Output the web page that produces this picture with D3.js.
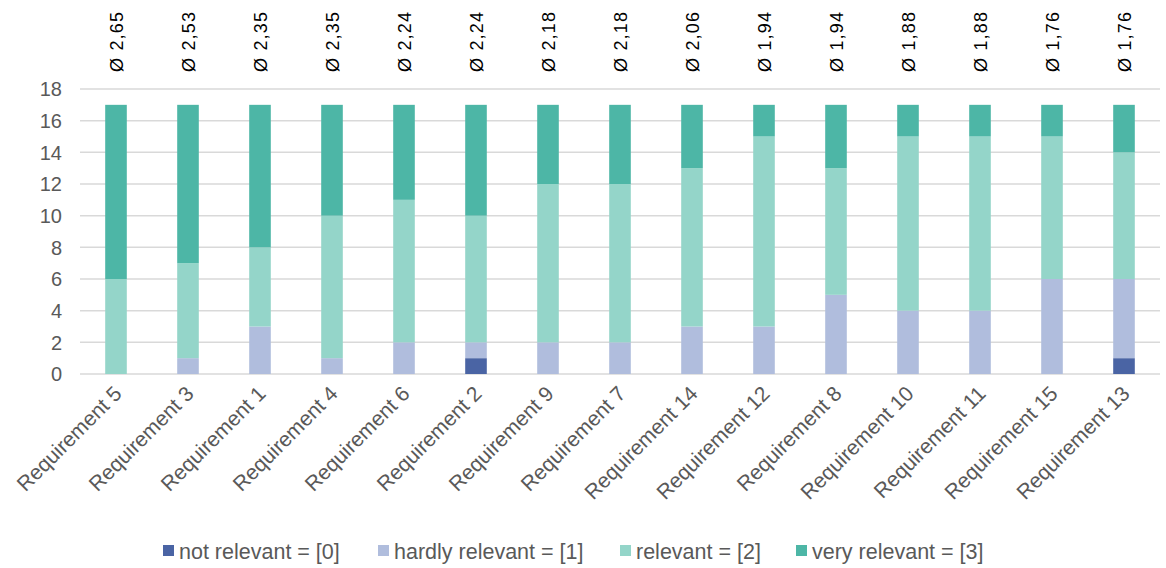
<!DOCTYPE html>
<html>
<head>
<meta charset="utf-8">
<script src="https://cdn.jsdelivr.net/npm/d3@7"></script>
<style>
body { margin: 0; background: #fff; }
text { font-family: "Liberation Sans", Arial, sans-serif; }
</style>
</head>
<body>
<svg width="1166" height="568"></svg>
<script>
var requirements = ['Requirement 5', 'Requirement 3', 'Requirement 1', 'Requirement 4', 'Requirement 6',
	'Requirement 2', 'Requirement 9', 'Requirement 7', 'Requirement 14', 'Requirement 12',
	'Requirement 8', 'Requirement 10', 'Requirement 11', 'Requirement 15', 'Requirement 13'];
var notRelevant    = [0, 0, 0, 0, 0, 1, 0, 0, 0, 0, 0, 0, 0, 0, 1];
var hardlyRelevant = [0, 1, 3, 1, 2, 1, 2, 2, 3, 3, 5, 4, 4, 6, 5];
var relevant       = [6, 6, 5, 9, 9, 8, 10, 10, 10, 12, 8, 11, 11, 9, 8];
var veryRelevant   = [11, 10, 9, 7, 6, 7, 5, 5, 4, 2, 4, 2, 2, 2, 3];
var averages = ['2,65', '2,53', '2,35', '2,35', '2,24', '2,24', '2,18', '2,18', '2,06', '1,94', '1,94', '1,88', '1,88', '1,76', '1,76'];
var seriesNames = ['not relevant = [0]', 'hardly relevant = [1]', 'relevant = [2]', 'very relevant = [3]'];
var colors = ['#4a64a4', '#b0bddd', '#94d5c9', '#4db6a6'];
var yTicks = [0, 2, 4, 6, 8, 10, 12, 14, 16, 18];

var svg = d3.select('svg');
var plotLeft = 80, plotRight = 1160, plotTop = 89, plotBottom = 374;

var x = d3.scaleBand().domain(requirements).range([plotLeft, plotRight]).paddingInner(0.7).paddingOuter(0.35);
var y = d3.scaleLinear().domain([0, 18]).range([plotBottom, plotTop]);

var rows = requirements.map(function(r, i){
	return {name: r, s0: notRelevant[i], s1: hardlyRelevant[i], s2: relevant[i], s3: veryRelevant[i]};
});
var stack = d3.stack().keys(['s0', 's1', 's2', 's3'])(rows);

// gridlines
svg.append('g').selectAll('line').data(yTicks).join('line')
	.attr('x1', plotLeft).attr('x2', plotRight)
	.attr('y1', function(d){ return y(d); }).attr('y2', function(d){ return y(d); })
	.style('stroke', '#d9d9d9').style('stroke-width', 1.5);

// y labels
svg.append('g').selectAll('text').data(yTicks).join('text')
	.attr('x', 62).attr('y', function(d){ return y(d); })
	.attr('dy', '0.36em').attr('text-anchor', 'end')
	.style('font-size', '20px').style('fill', '#595959')
	.text(function(d){ return d; });

// bars
svg.append('g').selectAll('g').data(stack).join('g')
	.style('fill', function(d, i){ return colors[i]; })
	.selectAll('rect').data(function(d){ return d; }).join('rect')
	.attr('x', function(d){ return x(d.data.name); })
	.attr('width', x.bandwidth())
	.attr('y', function(d){ return y(d[1]); })
	.attr('height', function(d){ return y(d[0]) - y(d[1]); });

// averages on top
svg.append('g').selectAll('text').data(requirements).join('text')
	.attr('transform', function(d){ return 'translate(' + (x(d) + x.bandwidth() / 2 + 7) + ',72) rotate(-90)'; })
	.style('font-size', '18px').style('letter-spacing', '1.2px').style('fill', '#000')
	.text(function(d, i){ return 'Ø ' + averages[i]; });

// x labels
svg.append('g').selectAll('text').data(requirements).join('text')
	.attr('transform', function(d){ return 'translate(' + (x(d) + x.bandwidth() / 2 + 7) + ',395) rotate(-45)'; })
	.attr('text-anchor', 'end')
	.style('font-size', '21px').style('fill', '#595959')
	.text(function(d){ return d; });

// legend
var legendX = [163, 378, 620, 796];
var legend = svg.append('g').selectAll('g').data(seriesNames).join('g')
	.attr('transform', function(d, i){ return 'translate(' + legendX[i] + ',551)'; });
legend.append('rect').attr('x', 0).attr('y', -6).attr('width', 11).attr('height', 11)
	.style('fill', function(d, i){ return colors[i]; });
legend.append('text').attr('x', 16).attr('dy', '0.36em')
	.style('font-size', '21.5px').style('fill', '#595959')
	.text(function(d){ return d; });
</script>
</body>
</html>
